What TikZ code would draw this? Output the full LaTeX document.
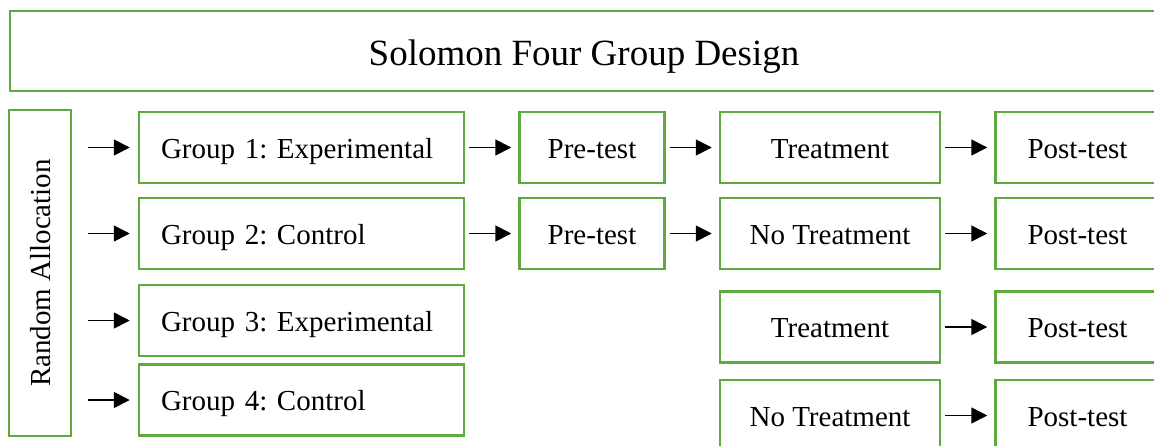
\documentclass[tikz,border=0pt]{standalone}
\usepackage{fontspec}
\setmainfont{Liberation Serif}
\usetikzlibrary{arrows.meta, positioning}
\definecolor{boxgreen}{RGB}{95,170,62}
\frenchspacing

\begin{document}
\begin{tikzpicture}[
x=0.5pt, y=-0.5pt,
node distance=10pt and 26.5pt,
font=\fontsize{14.5pt}{17pt}\selectfont,
box/.style={rectangle, draw=boxgreen, line width=1.25pt, minimum height=35.5pt, inner sep=0pt, text height=13pt, text depth=2.5pt, align=center},
titlebox/.style={box, minimum width=574pt, minimum height=40pt, text height=16pt, text depth=2pt, font=\fontsize{18.5pt}{22pt}\selectfont},
allocbox/.style={box, minimum width=163pt, minimum height=31pt, rotate=90},
groupbox/.style={box, text width=140.5pt, inner xsep=11pt, align=left},
pretest/.style={box, minimum width=72.5pt},
treatbox/.style={box, minimum width=110pt},
posttest/.style={box, minimum width=82pt},
arrow/.style={-{Triangle[length=8pt, width=8pt]}, line width=0.8pt, shorten <=2pt, shorten >=3.5pt}
]
\useasboundingbox (0,0) rectangle (1154,445);

\node[titlebox] (title) at (584,51) {Solomon Four Group Design};
\node[allocbox] (alloc) at (40,273) {Random Allocation};

\node[groupbox] (g1) at (301.5,147.5) {Group 1: Experimental};
\node[groupbox] (g2) at (301.5,233.5) {Group 2: Control};
\node[groupbox] (g3) at (301.5,320.5) {Group 3: Experimental};
\node[groupbox] (g4) at (301.5,400) {Group 4: Control};

\node[pretest, right=of g1] (pre1) {Pre-test};
\node[treatbox, right=of pre1] (treat1) {Treatment};
\node[posttest, right=of treat1] (post1) {Post-test};

\node[pretest, right=of g2] (pre2) {Pre-test};
\node[treatbox, right=of pre2] (treat2) {No Treatment};
\node[posttest, right=of treat2] (post2) {Post-test};

\node[treatbox, below=of treat2] (treat3) {Treatment};
\node[posttest, right=of treat3] (post3) {Post-test};
\node[treatbox, below=7.5pt of treat3] (treat4) {No Treatment};
\node[posttest, right=of treat4] (post4) {Post-test};

\foreach \g in {g1,g2,g3,g4}
  \draw[arrow, shorten <=8pt, shorten >=4pt] (alloc.south |- \g) -- (\g);

\draw[arrow] (g1) -- (pre1);
\draw[arrow] (pre1) -- (treat1);
\draw[arrow] (treat1) -- (post1);
\draw[arrow] (g2) -- (pre2);
\draw[arrow] (pre2) -- (treat2);
\draw[arrow] (treat2) -- (post2);
\draw[arrow] (treat3) -- (post3);
\draw[arrow] (treat4) -- (post4);

\end{tikzpicture}
\end{document}
